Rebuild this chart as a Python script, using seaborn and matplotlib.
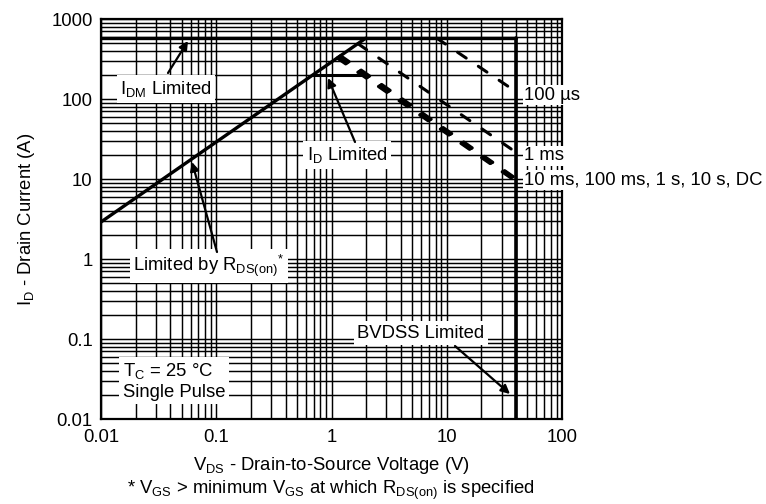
import matplotlib
matplotlib.use("Agg")
import matplotlib.pyplot as plt
import seaborn as sns
from matplotlib.ticker import FixedLocator, LogLocator, NullFormatter

# safe operating area boundaries (V, A)
rds_v = [0.01, 1.98]
rds_i = [2.9, 575]
idm_v = [0.01, 40]
idm_i = [575, 575]
bvdss_v = [40, 40]
bvdss_i = [575, 0.01]
id_v = [0.69, 1.88]
id_i = [200, 200]
us100_v = [8.2, 40]
us100_i = [575, 123]
ms1_v = [1.7, 40]
ms1_i = [490, 21.5]
# 10 ms, 100 ms, 1 s, 10 s and DC sit almost on top of each other
dc_v = [[1.12, 40], [1.14, 40], [1.16, 40], [1.18, 40], [1.20, 40]]
dc_i = [[325, 9.3], [331, 9.5], [336, 9.7], [342, 9.9], [348, 10.1]]

x_ticks = [0.01, 0.1, 1, 10, 100]
x_tick_labels = ["0.01", "0.1", "1", "10", "100"]
y_ticks = [0.01, 0.1, 1, 10, 100, 1000]
y_tick_labels = ["0.01", "0.1", "1", "10", "100", "1000"]

FS = 13.3

sns.set_theme(style="white")
plt.rcParams.update({
    "font.family": ["Liberation Sans", "DejaVu Sans"],
    "font.size": FS,
    "mathtext.fontset": "custom",
    "mathtext.rm": "Liberation Sans",
    "mathtext.it": "Liberation Sans",
    "text.color": "black",
    "axes.labelcolor": "black",
    "xtick.color": "black",
    "ytick.color": "black",
})

W, H = 766, 504
fig = plt.figure(figsize=(W / 100, H / 100), dpi=100)
ax = fig.add_axes([101 / W, 1 - 419 / H, 461 / W, 400 / H])
ax.set_xscale("log")
ax.set_yscale("log")
ax.set_xlim(0.01, 100)
ax.set_ylim(0.01, 1000)

ax.xaxis.set_major_locator(FixedLocator(x_ticks))
ax.yaxis.set_major_locator(FixedLocator(y_ticks))
ax.set_xticklabels(x_tick_labels)
ax.set_yticklabels(y_tick_labels)
for axis in (ax.xaxis, ax.yaxis):
    axis.set_minor_locator(LogLocator(base=10, subs=range(2, 10), numticks=20))
    axis.set_minor_formatter(NullFormatter())
ax.tick_params(which="both", length=0, labelsize=FS)
ax.tick_params(axis="x", pad=7)
ax.tick_params(axis="y", pad=6)
ax.grid(which="both", color="black", lw=1.05)
ax.set_axisbelow(True)
for sp in ax.spines.values():
    sp.set_color("black")
    sp.set_linewidth(1.6)


def draw(v, i, lw, ls="-"):
    sns.lineplot(x=v, y=i, ax=ax, color="black", lw=lw, linestyle=ls,
                 estimator=None, sort=False, dash_capstyle="round", zorder=3)


dash = (0, (3.4, 4.8))
draw(rds_v, rds_i, 2.4)
draw(idm_v, idm_i, 2.4)
draw(bvdss_v, bvdss_i, 2.6)
draw(id_v, id_i, 2.2)
draw(us100_v, us100_i, 2.2, dash)
draw(ms1_v, ms1_i, 2.2, dash)
for v, i in zip(dc_v, dc_i):
    draw(v, i, 2.2, dash)


def px(x, y):
    # reference pixel -> axes fraction
    return ((x - 101) / 461, (419 - y) / 400)


box = dict(boxstyle="square,pad=0.2", fc="white", ec="none")
arrow = dict(arrowstyle="-|>", color="black", lw=1.6, mutation_scale=13,
             shrinkA=0, shrinkB=0)

labels = [
    (r"I$_{\mathrm{DM}}$ Limited", (166, 89), (168, 73), (188, 41)),
    (r"I$_{\mathrm{D}}$ Limited", (347, 155), (355, 142), (328, 78)),
    (r"Limited by R$_{\mathrm{DS(on)}}$$^{*}$", (209, 266), (217, 252), (192, 162)),
    ("BVDSS Limited", (421, 333), (455, 346), (510, 394)),
]
for txt, pos, start, tip in labels:
    ax.text(*px(*pos), txt, transform=ax.transAxes, ha="center", va="center",
            bbox=box, zorder=5)
    ax.annotate("", xy=px(*tip), xytext=px(*start), xycoords="axes fraction",
                textcoords="axes fraction", arrowprops=arrow, zorder=6)

ax.text(*px(123, 381), "T$_{\\mathrm{C}}$ = 25 °C\nSingle Pulse",
        transform=ax.transAxes, ha="left", va="center", linespacing=1.2,
        bbox=box, zorder=5)

for txt, y in [("100 µs", 95), ("1 ms", 156), ("10 ms, 100 ms, 1 s, 10 s, DC", 180)]:
    ax.text(*px(524, y), txt, transform=ax.transAxes, ha="left", va="center",
            bbox=dict(boxstyle="square,pad=0.08", fc="white", ec="none"),
            zorder=5, clip_on=False)

ax.set_ylabel(r"I$_{\mathrm{D}}$ - Drain Current (A)", fontsize=FS, labelpad=10)
fig.text(331 / W, 1 - 466 / H, r"V$_{\mathrm{DS}}$ - Drain-to-Source Voltage (V)",
         ha="center", va="center", fontsize=FS)
fig.text(331 / W, 1 - 490 / H,
         r"* V$_{\mathrm{GS}}$ > minimum V$_{\mathrm{GS}}$ at which R$_{\mathrm{DS(on)}}$ is specified",
         ha="center", va="center", fontsize=FS)

fig.savefig("out.png", dpi=100)
plt.close(fig)
